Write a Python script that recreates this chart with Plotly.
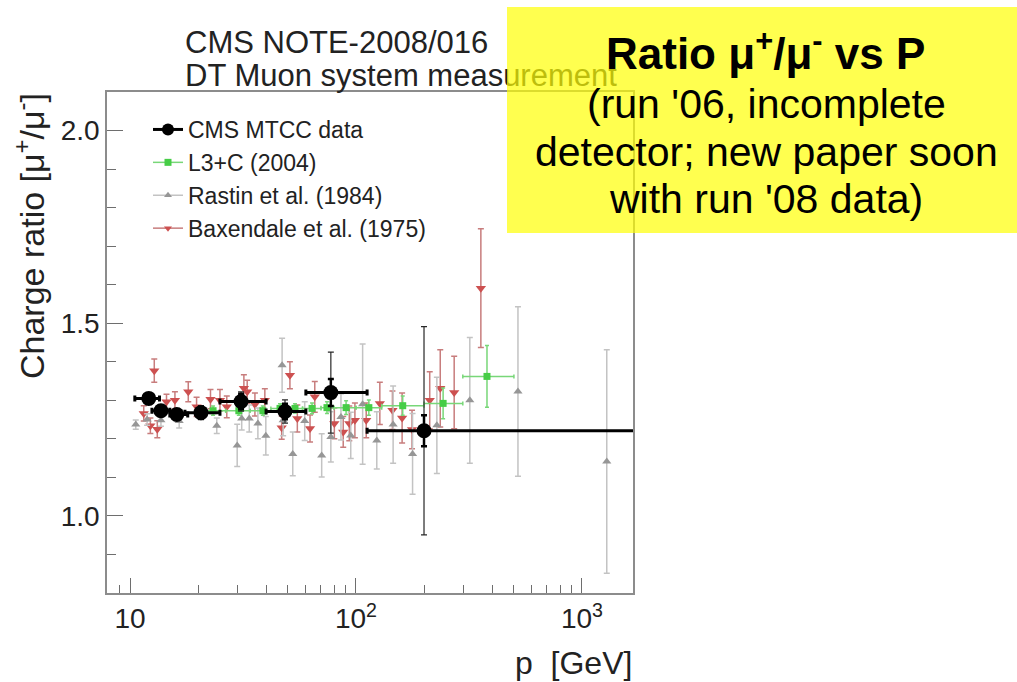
import plotly.graph_objects as go

# ---------------- data ----------------
cms_p = [12.1, 13.7, 16.1, 20.6, 31.0, 48.5, 77.4, 200.0]
cms_lo = [10.5, 12.5, 15.0, 17.5, 25.0, 40.0, 60.0, 112.0]
cms_hi = [13.5, 15.0, 18.0, 25.0, 40.0, 60.0, 112.0, 2000.0]
cms_r = [1.305, 1.273, 1.263, 1.268, 1.297, 1.271, 1.320, 1.221]
cms_stat = [0.012, 0.012, 0.012, 0.015, 0.020, 0.020, 0.035, 0.040]
cms_tot = [0.015, 0.015, 0.015, 0.018, 0.025, 0.030, 0.105, 0.270]

l3c_p = [23.3, 30.3, 38.7, 46.1, 53.7, 63.9, 74.4, 90.4, 114.0, 161.0, 243.0, 380.0]
l3c_edges = [21.5, 26.5, 34.0, 42.0, 50.0, 58.0, 70.0, 80.0, 100.0, 130.0, 200.0, 297.0, 500.0]
l3c_r = [1.273, 1.273, 1.273, 1.279, 1.279, 1.279, 1.281, 1.281, 1.281, 1.286, 1.292, 1.362]
l3c_e = [0.012, 0.012, 0.012, 0.012, 0.012, 0.014, 0.015, 0.018, 0.020, 0.025, 0.040, 0.080]

rastin_p = [10.6, 11.9, 13.7, 16.5, 24.2, 29.8, 31.2, 33.7, 36.8, 39.9, 47.1, 47.6, 52.5,
            59.3, 70.5, 77.4, 85.8, 94.8, 107.0, 123.6, 146.0, 178.0, 228.0, 319.0, 521.0, 1288.0]
rastin_r = [1.237, 1.250, 1.248, 1.246, 1.234, 1.183, 1.253, 1.253, 1.240, 1.208, 1.391, 1.248, 1.161,
            1.246, 1.157, 1.205, 1.257, 1.209, 1.290, 1.196, 1.237, 1.161, 1.235, 1.300, 1.323, 1.141]
rastin_e = [0.012, 0.015, 0.015, 0.018, 0.020, 0.055, 0.030, 0.035, 0.040, 0.050, 0.070, 0.040, 0.057,
            0.050, 0.056, 0.065, 0.060, 0.060, 0.156, 0.074, 0.100, 0.105, 0.125, 0.163, 0.220, 0.290]

bax_p = [11.5, 12.3, 12.8, 13.2, 14.5, 15.8, 18.1, 19.7, 22.7, 25.0, 26.8, 31.9, 33.0, 35.7, 39.5,
         46.9, 51.0, 55.0, 62.6, 65.7, 80.2, 87.8, 93.4, 98.9, 111.0, 127.5, 145.0, 160.0, 177.0,
         212.0, 236.0, 272.0, 357.0]
bax_r = [1.266, 1.234, 1.377, 1.225, 1.296, 1.300, 1.322, 1.283, 1.303, 1.300, 1.283, 1.331, 1.322,
         1.289, 1.300, 1.229, 1.365, 1.253, 1.227, 1.309, 1.240, 1.218, 1.240, 1.248, 1.248, 1.292,
         1.274, 1.254, 1.224, 1.300, 1.331, 1.320, 1.591]
bax_e = [0.020, 0.020, 0.030, 0.022, 0.020, 0.022, 0.026, 0.025, 0.025, 0.028, 0.028, 0.035, 0.030,
         0.030, 0.030, 0.030, 0.035, 0.035, 0.035, 0.040, 0.040, 0.040, 0.045, 0.045, 0.045, 0.055,
         0.050, 0.065, 0.050, 0.074, 0.100, 0.094, 0.154]

names = ["CMS MTCC data", "L3+C (2004)", "Rastin et al. (1984)", "Baxendale et al. (1975)"]
x_tickvals = [10, 100, 1000]
x_ticktext = ["10", "10<sup>2</sup>", "10<sup>3</sup>"]
x_minor = [9, 20, 30, 40, 50, 60, 70, 80, 90, 200, 300, 400, 500, 600, 700, 800, 900]
y_tickvals = [1.0, 1.5, 2.0]
y_ticktext = ["1.0", "1.5", "2.0"]
y_minor = [0.9, 1.1, 1.2, 1.3, 1.4, 1.6, 1.7, 1.8, 1.9]

# ---------------- styles ----------------
RED = "rgb(205,80,80)"
RED_E = "rgb(200,125,125)"
GRAY = "rgb(150,150,150)"
GRAY_E = "rgb(195,195,195)"
GREEN = "rgb(70,205,70)"
GREEN_E = "rgb(120,215,120)"
FONT = "Liberation Sans, Arial, sans-serif"

fig = go.Figure()

fig.add_trace(go.Scatter(
    x=bax_p, y=bax_r, mode="markers", showlegend=False,
    marker=dict(symbol="triangle-down", size=9, color=RED),
    error_y=dict(type="data", array=bax_e, color=RED_E, thickness=1.5, width=3)))

fig.add_trace(go.Scatter(
    x=rastin_p, y=rastin_r, mode="markers", showlegend=False,
    marker=dict(symbol="triangle-up", size=8, color=GRAY),
    error_y=dict(type="data", array=rastin_e, color=GRAY_E, thickness=1.5, width=3)))

l3c_lo = l3c_edges[:-1]
l3c_hi = l3c_edges[1:]
fig.add_trace(go.Scatter(
    x=l3c_p, y=l3c_r, mode="markers", showlegend=False,
    marker=dict(symbol="square", size=7, color=GREEN),
    error_x=dict(type="data", array=[h - p for h, p in zip(l3c_hi, l3c_p)],
                 arrayminus=[p - l for p, l in zip(l3c_p, l3c_lo)],
                 color=GREEN_E, thickness=1.5, width=2),
    error_y=dict(type="data", array=l3c_e, color=GREEN_E, thickness=1.5, width=2)))

fig.add_trace(go.Scatter(
    x=cms_p, y=cms_r, mode="markers", showlegend=False,
    marker=dict(size=1, color="rgba(0,0,0,0)"),
    error_y=dict(type="data", array=cms_tot, color="rgb(40,40,40)", thickness=1.2, width=3)))

fig.add_trace(go.Scatter(
    x=cms_p, y=cms_r, mode="markers", showlegend=False,
    marker=dict(symbol="circle", size=15, color="black"),
    error_x=dict(type="data", array=[h - p for h, p in zip(cms_hi, cms_p)],
                 arrayminus=[p - l for p, l in zip(cms_p, cms_lo)],
                 color="black", thickness=3, width=3),
    error_y=dict(type="data", array=cms_stat, color="black", thickness=2.5, width=3)))

# legend entries
leg_styles = [
    dict(line=dict(color="black", width=3), marker=dict(symbol="circle", size=12, color="black")),
    dict(line=dict(color=GREEN_E, width=1.5), marker=dict(symbol="square", size=7, color=GREEN)),
    dict(line=dict(color=GRAY_E, width=1.5), marker=dict(symbol="triangle-up", size=7, color=GRAY)),
    dict(line=dict(color=RED_E, width=1.5), marker=dict(symbol="triangle-down", size=7, color=RED)),
]
for i, (nm, st) in enumerate(zip(names, leg_styles)):
    fig.add_trace(go.Scatter(x=[None], y=[None], mode="lines+markers", name=nm,
                             legendrank=i + 1, **st))

# ---------------- layout ----------------
L, R, T, B = 107, 633, 92, 593
W, H = R - L, B - T


def px(x):
    return (x - L) / W


def py(y):
    return (B - y) / H


axis_common = dict(showline=True, linecolor="rgb(140,140,140)", linewidth=1.5, mirror=True,
                   ticks="inside", tickcolor="rgb(110,110,110)", tickwidth=1, showgrid=False,
                   zeroline=False, tickfont=dict(family=FONT, size=28, color="#222"))

fig.update_layout(
    width=1017, height=682,
    margin=dict(l=L, r=1017 - R, t=T, b=682 - B),
    paper_bgcolor="white", plot_bgcolor="white",
    font=dict(family=FONT, color="#222"),
    xaxis=dict(type="log", range=[0.898, 3.226], tickmode="array", tickvals=x_tickvals,
               ticktext=x_ticktext, ticklen=15,
               minor=dict(tickmode="array", tickvals=x_minor, ticks="inside", ticklen=8,
                          tickcolor="rgb(110,110,110)", showgrid=False),
               **axis_common),
    yaxis=dict(range=[0.8, 2.1], tickmode="array", tickvals=y_tickvals, ticktext=y_ticktext,
               ticklen=16,
               minor=dict(tickmode="array", tickvals=y_minor, ticks="inside", ticklen=9,
                          tickcolor="rgb(110,110,110)", showgrid=False),
               **axis_common),
    legend=dict(x=px(148), y=py(108), xanchor="left", yanchor="top",
                font=dict(family=FONT, size=23, color="#222"), bgcolor="rgba(0,0,0,0)",
                itemwidth=30, traceorder="normal"),
    showlegend=True,
)

annotations = [
    dict(text="CMS NOTE-2008/016", x=px(183), y=py(42), xanchor="left", yanchor="middle",
         font=dict(family=FONT, size=31, color="#222")),
    dict(text="DT Muon system measurement", x=px(183), y=py(75), xanchor="left", yanchor="middle",
         font=dict(family=FONT, size=31, color="#222")),
    # semi-transparent yellow box
    dict(text=" ", x=px(507), y=py(7), xanchor="left", yanchor="top", width=510, height=226,
         bgcolor="rgb(255,255,5)", opacity=0.7, borderpad=0, borderwidth=0),
    dict(text="<b>Ratio μ<sup>+</sup>/μ<sup>-</sup> vs P</b>", x=px(765), y=py(50),
         xanchor="center", yanchor="middle", font=dict(family=FONT, size=44, color="black")),
    dict(text="(run '06, incomplete", x=px(766), y=py(104), xanchor="center", yanchor="middle",
         font=dict(family=FONT, size=41, color="black")),
    dict(text="detector; new paper soon", x=px(766), y=py(152), xanchor="center", yanchor="middle",
         font=dict(family=FONT, size=41, color="black")),
    dict(text="with run '08 data)", x=px(766), y=py(199), xanchor="center", yanchor="middle",
         font=dict(family=FONT, size=41, color="black")),
    # axis titles
    dict(text="Charge ratio [μ<sup>+</sup>/μ<sup>-</sup>]", x=px(29), y=py(236), textangle=-90,
         xanchor="center", yanchor="middle", font=dict(family=FONT, size=34, color="#222")),
    dict(text="p\u00a0\u00a0[GeV]", x=px(634), y=py(663), xanchor="right", yanchor="middle",
         font=dict(family=FONT, size=32, color="#222")),
]
for a in annotations:
    a.update(xref="paper", yref="paper", showarrow=False)
fig.update_layout(annotations=annotations)

fig.write_html("out.html")
